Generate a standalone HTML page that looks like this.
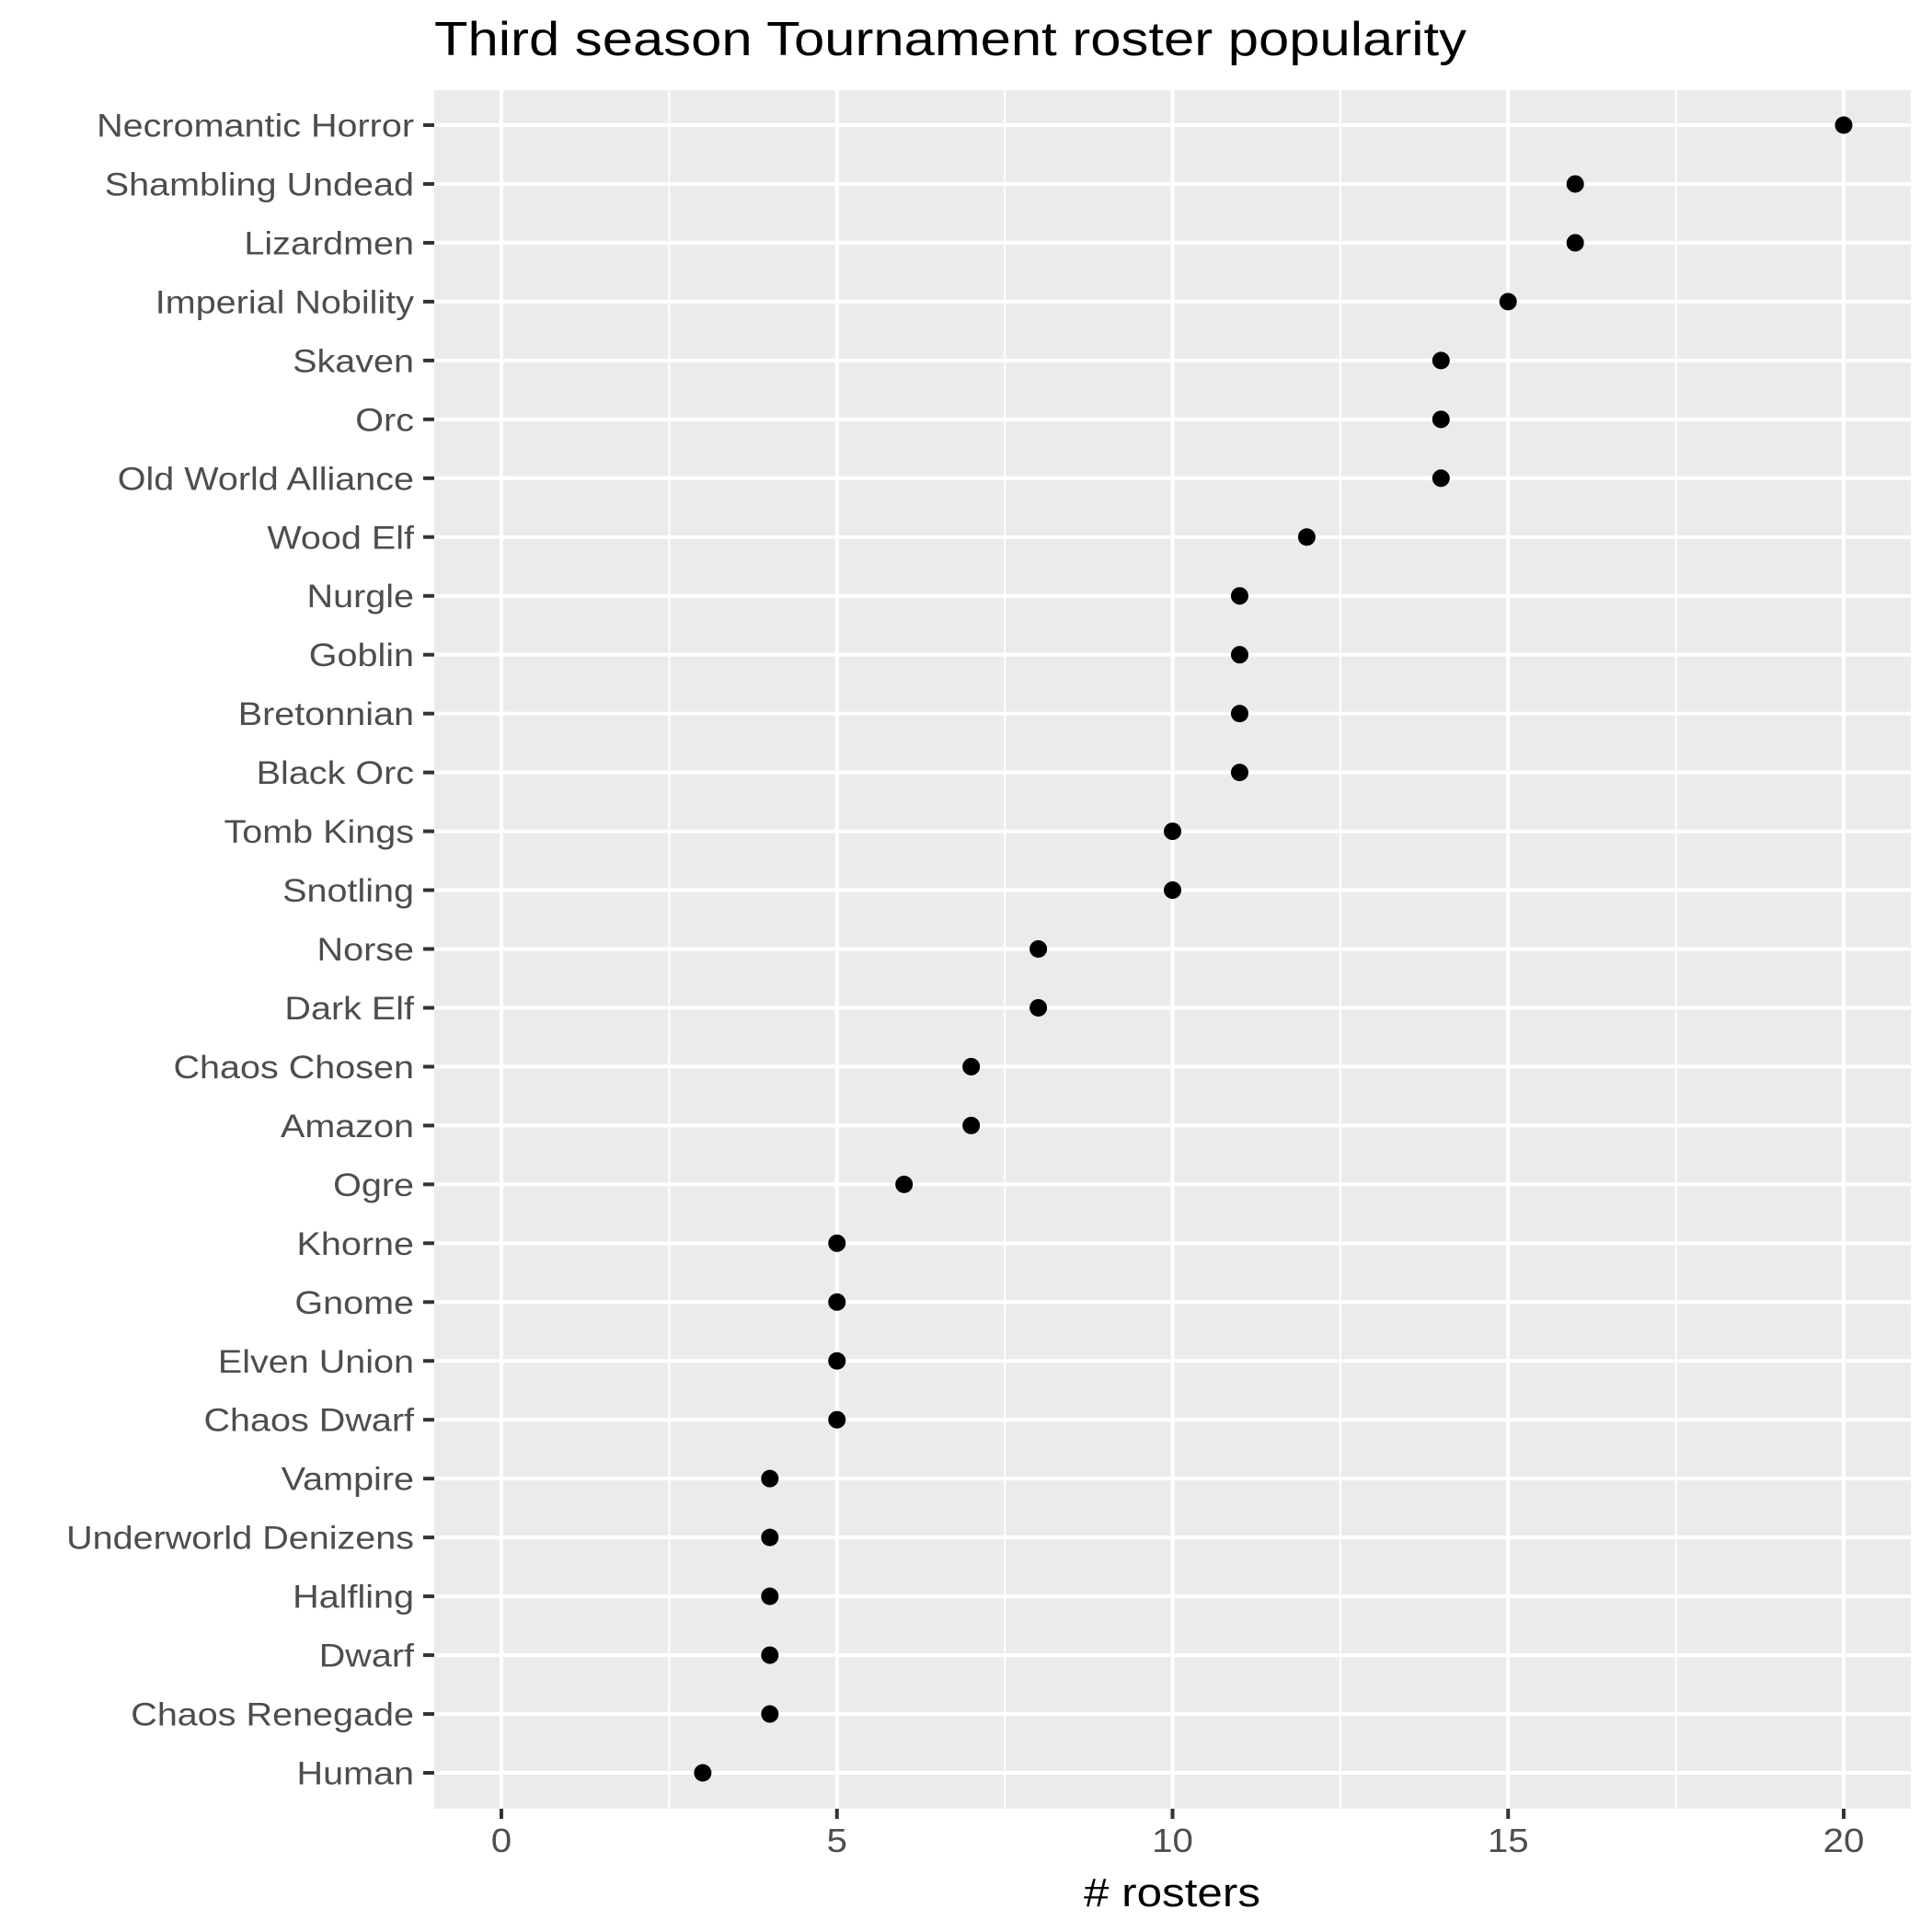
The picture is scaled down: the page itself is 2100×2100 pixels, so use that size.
<!DOCTYPE html>
<html><head><meta charset="utf-8"><style>
html,body{margin:0;padding:0;background:#fff;}
svg{display:block;font-family:"Liberation Sans",sans-serif;}
</style></head><body>
<svg id="chart" width="2100" height="2100" viewBox="0 0 2100 2100" xmlns="http://www.w3.org/2000/svg">
<rect width="2100" height="2100" fill="#fff"/>
<text x="472" y="60" font-size="52" fill="#000" textLength="1122" lengthAdjust="spacingAndGlyphs">Third season Tournament roster popularity</text>
<rect x="472" y="98" width="1605" height="1868" fill="#ebebeb"/>
<g id="grid"></g>
<g id="yaxis"></g>
<g id="xaxis"></g>
<g id="points"></g>
<text x="1274" y="2072" font-size="44" text-anchor="middle" fill="#000" textLength="192" lengthAdjust="spacingAndGlyphs"># rosters</text>
</svg>
<script>
const categories = ["Necromantic Horror","Shambling Undead","Lizardmen","Imperial Nobility","Skaven","Orc","Old World Alliance","Wood Elf","Nurgle","Goblin","Bretonnian","Black Orc","Tomb Kings","Snotling","Norse","Dark Elf","Chaos Chosen","Amazon","Ogre","Khorne","Gnome","Elven Union","Chaos Dwarf","Vampire","Underworld Denizens","Halfling","Dwarf","Chaos Renegade","Human"];
const rosterCounts = [20,16,16,15,14,14,14,12,11,11,11,11,10,10,8,8,7,7,6,5,5,5,5,4,4,4,4,4,3];
const xTicks = [0,5,10,15,20];
const xMinorTicks = [2.5,7.5,12.5,17.5];

const NS="http://www.w3.org/2000/svg";
const PL=472, PR=2077, PT=98, PB=1966;
const x0=545, x20=2004;
const xScale=v=>x0+(x20-x0)*v/20;
const yFirst=136, yLast=1927;
const yScale=i=>yFirst+(yLast-yFirst)*i/(categories.length-1);
function mk(tag,attrs,parent){const e=document.createElementNS(NS,tag);for(const k in attrs)e.setAttribute(k,attrs[k]);parent.appendChild(e);return e;}
const grid=document.getElementById('grid'),ya=document.getElementById('yaxis'),xa=document.getElementById('xaxis'),pts=document.getElementById('points');

xMinorTicks.forEach(v=>{
  const l=mk('line',{x1:xScale(v),x2:xScale(v),y1:PT,y2:PB,stroke:'#fff','stroke-width':2},grid);
  
  
});
xTicks.forEach(v=>{
  const x=xScale(v);
  const l=mk('line',{x1:x,x2:x,y1:PT,y2:PB,stroke:'#fff','stroke-width':4},grid);
  
  
  const t=mk('line',{x1:x,x2:x,y1:PB,y2:PB+11,stroke:'#333','stroke-width':4},xa);
  
  
  const tx=mk('text',{x:0,y:0,transform:`translate(${x},2013) scale(1.12,1)`,'font-size':36,'text-anchor':'middle',fill:'#4d4d4d'},xa);
  tx.textContent=v;
  
  
});
categories.forEach((c,i)=>{
  const y=yScale(i);
  const l=mk('line',{x1:PL,x2:PR,y1:y,y2:y,stroke:'#fff','stroke-width':4},grid);
  
  
  const t=mk('line',{x1:PL-12,x2:PL,y1:y,y2:y,stroke:'#333','stroke-width':4},ya);
  
  
  const tx=mk('text',{x:0,y:0,transform:`translate(450,${y+12.5}) scale(1.13,1)`,'font-size':35,'text-anchor':'end',fill:'#4d4d4d'},ya);
  tx.textContent=c;
  
  
  const p=mk('circle',{cx:xScale(rosterCounts[i]),cy:y,r:9.5,fill:'#000'},pts);
  
  
});
</script>
</body></html>
